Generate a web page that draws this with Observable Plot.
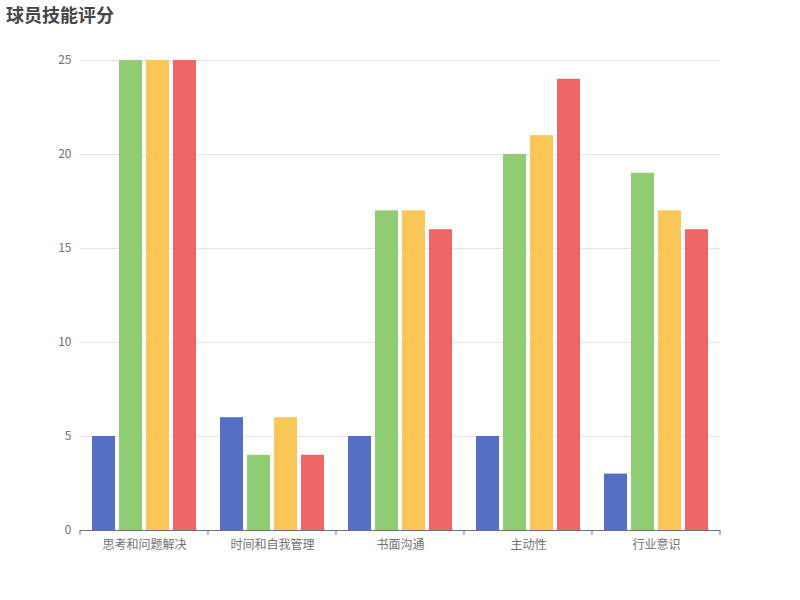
<!DOCTYPE html>
<html>
<head>
<meta charset="utf-8">
<script src="https://cdn.jsdelivr.net/npm/d3@7"></script>
<script src="https://cdn.jsdelivr.net/npm/@observablehq/plot@0.6"></script>
<style>
  html, body { margin: 0; padding: 0; background: #fff; }
  #wrap { position: relative; width: 800px; height: 600px; font-family: "Noto Sans CJK SC", sans-serif; }
  #title { position: absolute; left: 6px; top: 5px; font-size: 18px; line-height: 18px; font-weight: bold; color: #464646; }
  #chart { position: absolute; left: 0; top: 0; }
</style>
</head>
<body>
<div id="wrap">
  <div id="chart"></div>
  <div id="title">球员技能评分</div>
</div>
<script>
const categories = ["思考和问题解决", "时间和自我管理", "书面沟通", "主动性", "行业意识"];
const seriesNames = ["系列1", "系列2", "系列3", "系列4"];
const series1 = [5, 6, 5, 5, 3];
const series2 = [25, 4, 17, 20, 19];
const series3 = [25, 6, 17, 21, 17];
const series4 = [25, 4, 16, 24, 16];
const colors = ["#5470c6", "#91cc75", "#fac858", "#ee6666"];
const yTicks = [0, 5, 10, 15, 20, 25];

const seriesValues = [series1, series2, series3, series4];
const data = categories.flatMap((c, i) =>
  seriesNames.map((s, j) => ({ category: c, series: s, value: seriesValues[j][i] }))
);

const chart = Plot.plot({
  width: 800,
  height: 600,
  marginTop: 60,
  marginBottom: 70,
  marginLeft: 80,
  marginRight: 80,
  style: { fontSize: "12px", fontFamily: "'Noto Sans CJK SC', sans-serif", color: "#6e7079", background: "transparent" },
  fx: { domain: categories, padding: 0, label: null },
  x: { domain: seriesNames, paddingInner: 0.148, paddingOuter: 0.444, axis: null },
  y: { domain: [0, 25], label: null },
  color: { domain: seriesNames, range: colors },
  marks: [
    Plot.gridY(yTicks.slice(1), { stroke: "#e0e6f1", strokeOpacity: 1 }),
    Plot.barY(data, { fx: "category", x: "series", y: "value", fill: "series" }),
    Plot.ruleY([0], { stroke: "#6e7079" }),
    Plot.axisY(yTicks, { tickSize: 0, tickPadding: 9, label: null, fill: "#6e7079" }),
    Plot.axisFx({ anchor: "bottom", tickSize: 0, tickPadding: 10, label: null, fill: "#6e7079" })
  ]
});

document.getElementById("chart").appendChild(chart);

// boundary ticks between categories, from Plot's own scales
const fx = chart.scale("fx");
const y = chart.scale("y");
const y0 = y.apply(0);
const svg = d3.select(chart.tagName.toLowerCase() === "svg" ? chart : chart.querySelector("svg"));
const edges = categories.map(c => fx.apply(c)).concat([fx.apply(categories[categories.length - 1]) + fx.bandwidth]);
svg.append("g")
  .selectAll("line")
  .data(edges)
  .join("line")
  .attr("x1", d => d).attr("x2", d => d)
  .attr("y1", y0).attr("y2", y0 + 5)
  .attr("stroke", "#6e7079");
</script>
</body>
</html>
